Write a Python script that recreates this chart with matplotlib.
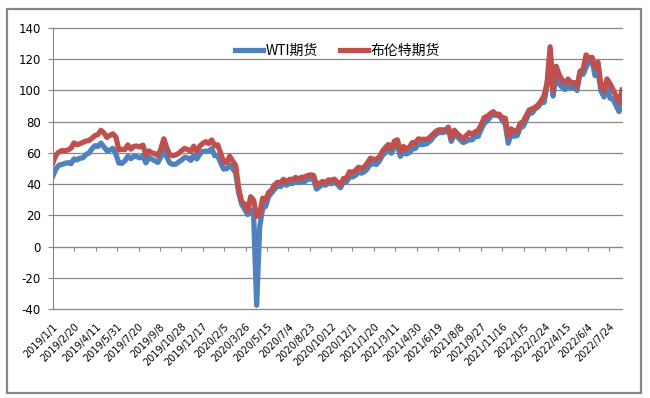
import pandas as pd
import matplotlib
matplotlib.use("Agg")
import matplotlib.pyplot as plt
from matplotlib.patches import Rectangle

plt.rcParams["axes.unicode_minus"] = False

# weekly (Tuesday) closes, 2019-01-01 .. 2022-08-23
wti_2019 = [45.4, 49.8, 52.1, 52.6, 53.3, 53.7, 53.1, 56.1, 55.5, 56.6,
            56.9, 59.0, 59.9, 62.6, 64.6, 64.1, 66.3, 63.9, 61.4, 61.8,
            62.9, 59.1, 53.5, 53.3, 54.9, 57.8, 56.3, 57.8, 57.6, 56.8,
            58.1, 53.6, 57.1, 56.1, 54.9, 53.9, 57.4, 62.9, 57.3, 53.6,
            52.6, 52.8, 54.2, 55.5, 57.2, 56.8, 55.2, 58.4, 56.1, 59.2,
            60.9, 61.1, 61.1]
wti_2020 = [62.7, 58.2, 58.3, 53.5, 49.6, 49.9, 52.1, 49.9, 47.2, 34.4,
            27.0, 24.0, 20.5, 23.6, 20.1, -37.6, 12.3, 24.6, 25.8, 32.0,
            34.4, 36.8, 38.9, 38.4, 40.4, 39.3, 40.6, 40.3, 41.9, 41.0,
            41.7, 41.6, 42.9, 43.4, 42.8, 36.8, 38.3, 39.8, 39.3, 40.7,
            40.2, 41.7, 39.6, 37.7, 41.4, 41.4, 44.9, 44.6, 45.6, 47.6,
            47.0, 48.0]
wti_2021 = [49.9, 53.2, 53.0, 52.6, 54.8, 58.4, 60.1, 61.7, 59.8, 64.0,
            64.8, 57.8, 60.6, 59.3, 60.2, 62.4, 62.9, 65.7, 65.3, 65.5,
            66.1, 67.7, 70.1, 72.1, 73.1, 73.0, 73.4, 75.3, 67.4, 71.7,
            70.6, 68.3, 66.6, 67.5, 68.5, 68.4, 70.5, 70.6, 75.3, 78.9,
            80.6, 83.0, 84.7, 83.9, 84.2, 80.8, 78.5, 66.2, 72.1, 70.7,
            71.1, 76.0]
wti_2022 = [77.0, 81.2, 85.4, 85.6, 88.2, 89.4, 92.1, 92.4, 103.4, 123.7,
            96.4, 111.8, 104.2, 102.0, 100.6, 102.6, 101.7, 102.4, 100.0, 112.4,
            110.3, 114.7, 119.4, 118.9, 109.5, 111.8, 99.5, 95.8, 104.2, 95.0,
            94.4, 90.5, 86.5, 93.7]

brent_2019 = [53.8, 58.7, 60.6, 61.5, 61.3, 61.9, 63.0, 66.4, 65.2, 65.9,
              66.7, 67.6, 67.9, 69.4, 71.1, 71.7, 74.5, 72.8, 69.9, 71.2,
              72.2, 70.1, 61.9, 62.3, 62.1, 65.1, 62.4, 64.2, 64.4, 63.8,
              65.0, 58.9, 61.3, 60.0, 59.5, 58.3, 62.4, 69.0, 63.1, 58.9,
              58.2, 58.7, 59.7, 61.6, 62.9, 62.1, 60.9, 64.3, 60.8, 64.3,
              66.1, 67.2, 66.0]
brent_2020 = [68.3, 64.5, 65.2, 59.5, 54.0, 54.0, 57.8, 54.9, 51.9, 37.2,
              28.7, 27.2, 22.7, 31.9, 29.6, 19.3, 20.5, 31.0, 30.0, 34.7,
              36.2, 39.6, 41.2, 41.0, 43.1, 41.2, 43.1, 42.9, 44.3, 43.2,
              44.4, 44.5, 45.5, 45.9, 45.6, 39.8, 40.5, 41.7, 41.0, 42.7,
              42.5, 43.2, 41.2, 39.7, 43.6, 43.8, 47.9, 47.4, 48.8, 50.8,
              50.1, 51.1]
brent_2021 = [53.6, 56.6, 55.9, 55.9, 57.5, 61.1, 63.4, 65.4, 62.7, 67.5,
              68.4, 60.8, 64.1, 62.7, 63.7, 66.6, 66.4, 69.0, 68.6, 68.7,
              68.7, 70.3, 72.2, 74.0, 74.8, 74.8, 74.5, 76.5, 69.4, 74.5,
              72.4, 70.6, 69.0, 71.1, 73.0, 71.7, 73.6, 74.4, 78.1, 82.6,
              83.4, 85.1, 86.4, 84.7, 84.8, 82.4, 82.3, 70.6, 75.4, 73.7,
              74.0, 78.9]
brent_2022 = [80.0, 83.7, 87.5, 88.2, 89.2, 90.8, 93.3, 96.8, 105.0, 128.0,
              99.9, 115.5, 110.2, 106.6, 104.6, 107.3, 105.0, 105.0, 102.5, 111.9,
              113.6, 122.8, 120.6, 121.2, 114.7, 118.0, 102.8, 99.5, 107.4, 104.4,
              100.5, 96.3, 92.3, 100.2]

wti = wti_2019 + wti_2020 + wti_2021 + wti_2022
brent = brent_2019 + brent_2020 + brent_2021 + brent_2022

series_names = ["WTI期货", "布伦特期货"]
y_ticks = [-40, -20, 0, 20, 40, 60, 80, 100, 120, 140]

GRID = "#878787"


def main():
    dates = pd.date_range("2019-01-01", periods=len(wti), freq="7D")
    tick_dates = pd.date_range("2019-01-01", "2022-07-24", freq="50D")
    tick_labels = [f"{d.year}/{d.month}/{d.day}" for d in tick_dates]

    fig = plt.figure(figsize=(6.5, 3.98), dpi=100)
    ax = fig.add_axes([53 / 650, 89 / 398, 569 / 650, 281 / 398])

    ax.plot(dates, wti, color="#4F81BD", lw=3.8, label=series_names[0],
            solid_joinstyle="round")
    ax.plot(dates, brent, color="#C0504D", lw=3.8, label=series_names[1],
            solid_joinstyle="round")

    ax.set_xlim(dates[0], dates[-1])
    ax.set_ylim(-40, 140)
    ax.set_yticks(y_ticks)
    ax.yaxis.grid(True, color=GRID, lw=0.9)
    for gl in ax.get_ygridlines():
        gl.set_clip_on(False)
    ax.set_axisbelow(True)

    for side in ["top", "right"]:
        ax.spines[side].set_visible(False)
    ax.spines["left"].set_color(GRID)
    ax.spines["bottom"].set_position(("data", 0))
    ax.spines["bottom"].set_color(GRID)

    ax.set_xticks(tick_dates)
    ax.set_xticklabels(tick_labels)
    ax.tick_params(axis="x", direction="out", length=3, color=GRID,
                   pad=51, labelsize=7, labelrotation=45)
    for lbl in ax.get_xticklabels():
        lbl.set_ha("right")
        lbl.set_va("top")
        lbl.set_rotation_mode("anchor")
    ax.tick_params(axis="y", direction="out", length=3.6, color=GRID,
                   pad=5, labelsize=8.5)

    ax.legend(ncol=2, loc="center", bbox_to_anchor=(0.5, 0.92), frameon=False,
              handlelength=2.0, handletextpad=0.2, columnspacing=1.6,
              prop={"family": ["Noto Sans CJK SC", "DejaVu Sans"], "size": 10})

    fig.patches.append(Rectangle((7 / 650, 5 / 398), 634 / 650, 384 / 398,
                                 transform=fig.transFigure, fill=False,
                                 edgecolor=GRID, lw=1.6))

    fig.savefig("out.png", dpi=100)
    plt.close(fig)


if __name__ == "__main__":
    main()
